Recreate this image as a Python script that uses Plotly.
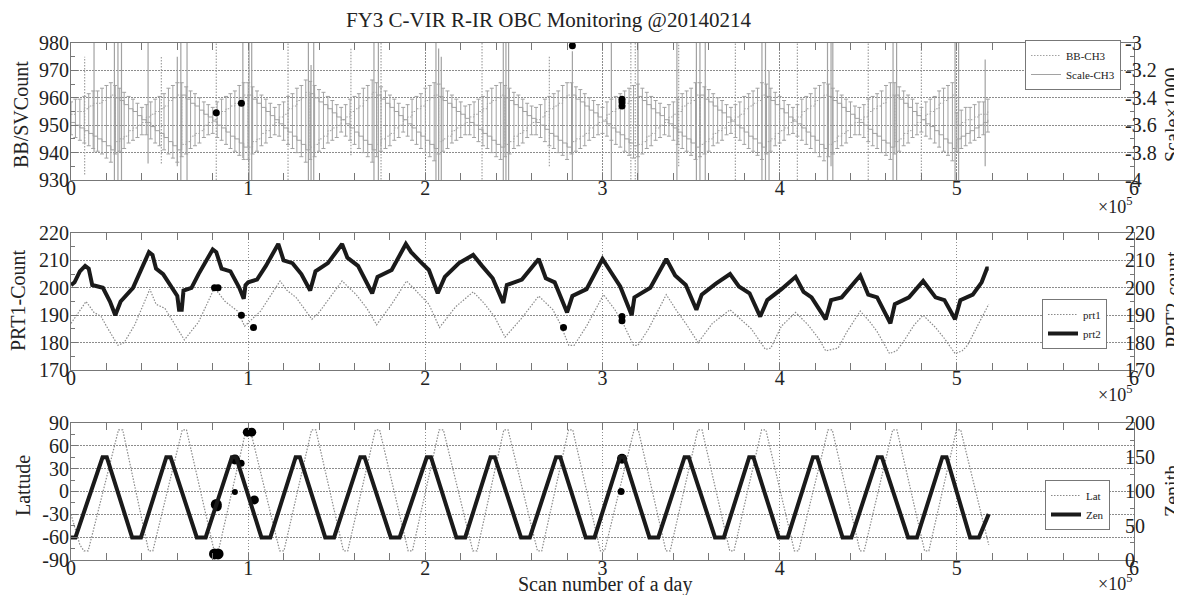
import plotly.graph_objects as go

# ---------------- Panel 1 : BB / Scale (CH3) ----------------
top_scan_step = 0.025   # sample spacing, in units of 1e5 scans
bb_ch3 = [954, 955, 955, 956, 957, 958, 958, 959, 960, 961,
          944, 945, 946, 948, 949, 950, 951, 953, 954, 955, 956, 957, 959, 960, 961,
          943, 944, 946, 947, 948, 950, 951, 952, 954, 955, 956, 957, 958, 960, 961,
          942, 944, 945, 947, 948, 950, 951, 953, 954, 956, 957, 959, 960, 962,
          942, 943, 945, 946, 948, 949, 950, 952, 953, 955, 956, 957, 959, 960, 962,
          943, 945, 946, 947, 949, 950, 952, 953, 955, 956, 957, 959, 960, 961,
          944, 945, 946, 948, 949, 950, 951, 953, 954, 955, 956, 958, 959, 960, 961,
          943, 944, 946, 947, 948, 950, 951, 952, 953, 955, 956, 957, 958, 960, 961,
          944, 945, 946, 947, 949, 950, 951, 952, 954, 955, 956, 957, 958, 959, 960,
          943, 944, 946, 947, 949, 950, 951, 953, 954, 955, 957, 958, 959, 961,
          943, 944, 945, 947, 948, 949, 951, 952, 953, 954, 956, 957, 958, 959, 961,
          944, 945, 947, 948, 949, 951, 952, 953, 955, 956, 957, 959, 960, 961,
          943, 944, 946, 947, 948, 950, 951, 952, 953, 955, 956, 957, 958, 960, 961,
          944, 945, 947, 948, 950, 951, 952, 954, 955, 956, 958, 959, 960, 961,
          950, 951, 952, 952, 953, 954, 954, 955]
scale_ch3 = [-3.58, -3.60, -3.62, -3.64, -3.66, -3.68, -3.70, -3.72, -3.75, -3.78,
             -3.40, -3.42, -3.45, -3.48, -3.50, -3.53, -3.56, -3.58, -3.61, -3.64, -3.66, -3.69, -3.72, -3.75, -3.78,
             -3.38, -3.41, -3.44, -3.46, -3.49, -3.52, -3.54, -3.57, -3.60, -3.62, -3.65, -3.68, -3.70, -3.73, -3.76,
             -3.38, -3.41, -3.44, -3.47, -3.50, -3.53, -3.56, -3.59, -3.62, -3.65, -3.68, -3.71, -3.74, -3.78,
             -3.37, -3.40, -3.43, -3.45, -3.48, -3.51, -3.54, -3.56, -3.59, -3.62, -3.65, -3.68, -3.71, -3.74, -3.78,
             -3.38, -3.41, -3.44, -3.47, -3.50, -3.53, -3.56, -3.59, -3.62, -3.65, -3.68, -3.71, -3.74, -3.77,
             -3.39, -3.42, -3.44, -3.47, -3.50, -3.52, -3.55, -3.58, -3.60, -3.63, -3.66, -3.68, -3.71, -3.74, -3.76,
             -3.40, -3.42, -3.45, -3.47, -3.50, -3.53, -3.55, -3.58, -3.60, -3.63, -3.66, -3.68, -3.71, -3.73, -3.76,
             -3.38, -3.41, -3.43, -3.46, -3.49, -3.51, -3.54, -3.57, -3.59, -3.62, -3.65, -3.67, -3.70, -3.73, -3.75,
             -3.39, -3.42, -3.45, -3.48, -3.51, -3.53, -3.56, -3.59, -3.62, -3.65, -3.68, -3.70, -3.73, -3.76,
             -3.38, -3.41, -3.43, -3.46, -3.49, -3.51, -3.54, -3.57, -3.60, -3.62, -3.65, -3.68, -3.70, -3.73, -3.76,
             -3.39, -3.42, -3.45, -3.48, -3.51, -3.54, -3.57, -3.59, -3.62, -3.65, -3.68, -3.71, -3.74, -3.77,
             -3.39, -3.42, -3.44, -3.47, -3.50, -3.52, -3.55, -3.58, -3.60, -3.63, -3.66, -3.68, -3.71, -3.73, -3.76,
             -3.38, -3.41, -3.44, -3.47, -3.50, -3.53, -3.56, -3.59, -3.61, -3.64, -3.67, -3.70, -3.73, -3.77,
             -3.70, -3.68, -3.66, -3.64, -3.62, -3.60, -3.58, -3.56]

spike_solid_x = [0.13, 0.245, 0.265, 0.285, 0.435, 0.60, 0.62, 0.655, 0.97, 1.005, 1.02, 1.34, 1.355, 1.37,
                 1.71, 1.735, 2.06, 2.075, 2.09, 2.44, 2.455, 2.47, 2.83, 3.05, 3.20, 3.42, 3.53, 3.55, 3.58,
                 3.90, 3.92, 3.94, 4.27, 4.29, 4.30, 4.64, 4.66, 4.99, 5.01, 5.16]
spike_solid_lo = [940, 928, 928, 928, 936, 935, 928, 928, 938, 928, 928, 928, 928, 928,
                  928, 928, 930, 928, 928, 928, 928, 930, 928, 928, 928, 928, 928, 930, 928,
                  928, 928, 928, 928, 935, 928, 928, 928, 928, 928, 935]
spike_solid_hi = [980, 982, 982, 982, 980, 975, 982, 982, 980, 982, 982, 982, 972, 982,
                  982, 982, 982, 978, 975, 982, 982, 980, 977, 982, 982, 982, 982, 982, 982,
                  982, 982, 970, 982, 982, 982, 982, 982, 982, 982, 974]
spike_dot_x = [0.077, 0.51, 0.82, 1.225, 1.58, 1.75, 2.32, 2.70, 3.16, 3.185, 3.43, 3.75, 4.10, 4.50, 4.80]
spike_dot_lo = [932, 936, 930, 930, 939, 928, 928, 935, 928, 928, 935, 930, 930, 930, 930]
spike_dot_hi = [975, 975, 980, 980, 978, 982, 982, 975, 980, 982, 982, 980, 980, 982, 980]

top_dot_x = [0.82, 0.962, 2.83, 3.11, 3.11, 3.11]
top_dot_y = [954.5, 958, 979, 957, 958.5, 959.5]

# ---------------- Panel 2 : PRT ----------------
prt1_x = [0, 0.04, 0.085, 0.13, 0.17, 0.20, 0.265, 0.30, 0.36, 0.445, 0.48, 0.53, 0.585, 0.64, 0.72, 0.81,
          0.87, 0.94, 0.98, 1.07, 1.18, 1.22, 1.27, 1.36, 1.40, 1.53, 1.61, 1.67, 1.725, 1.81, 1.894, 1.96,
          2.02, 2.08, 2.17, 2.27, 2.33, 2.39, 2.45, 2.545, 2.64, 2.72, 2.76, 2.81, 2.84, 2.91, 3.006, 3.07,
          3.12, 3.175, 3.20, 3.26, 3.36, 3.42, 3.47, 3.54, 3.62, 3.72, 3.78, 3.84, 3.92, 3.95, 4.01, 4.09,
          4.16, 4.22, 4.26, 4.33, 4.38, 4.455, 4.51, 4.55, 4.62, 4.66, 4.70, 4.76, 4.81, 4.88, 4.93, 4.99,
          5.03, 5.06, 5.12, 5.18]
prt1_v = [187, 191, 195, 191, 189.5, 186, 179, 180, 186.5, 199.5, 194, 192.5, 186.5, 181, 187.5, 200,
          195, 191.5, 186, 191.5, 202.5, 199, 196.5, 188.5, 191, 202.5, 197.5, 192.5, 186.5, 194, 202.5, 198,
          194, 185.5, 193, 198.5, 194.5, 189.5, 182, 189, 197, 192, 187, 179, 179, 186, 197.5, 192,
          186.5, 179, 179, 185, 197.5, 191.5, 187, 180, 187, 192, 188.5, 185, 177.5, 178, 186, 191,
          186.5, 181.5, 177, 178, 184, 191.5, 187.5, 184, 176, 177, 180.5, 186.5, 190, 185.5, 181.5, 176,
          177, 179, 186.5, 194]
prt2_x = [0, 0.02, 0.05, 0.08, 0.10, 0.12, 0.18, 0.22, 0.25, 0.28, 0.35, 0.44, 0.46, 0.48, 0.52, 0.57,
          0.60, 0.61, 0.625, 0.635, 0.68, 0.72, 0.80, 0.82, 0.85, 0.90, 0.95, 0.975, 0.985, 1.0, 1.05, 1.10,
          1.17, 1.20, 1.25, 1.30, 1.35, 1.38, 1.45, 1.53, 1.56, 1.62, 1.66, 1.70, 1.73, 1.81, 1.89, 1.92,
          1.98, 2.02, 2.07, 2.11, 2.19, 2.27, 2.32, 2.38, 2.44, 2.46, 2.545, 2.64, 2.68, 2.73, 2.80, 2.83,
          2.91, 3.0, 3.05, 3.10, 3.165, 3.18, 3.27, 3.36, 3.41, 3.47, 3.53, 3.56, 3.64, 3.72, 3.77, 3.83,
          3.89, 3.93, 4.01, 4.09, 4.135, 4.18, 4.26, 4.29, 4.35, 4.455, 4.50, 4.55, 4.625, 4.65, 4.73, 4.81,
          4.88, 4.93, 4.99, 5.02, 5.09, 5.14, 5.17, 5.18]
prt2_v = [201, 202, 206, 208, 207, 201, 200, 195, 190, 195, 200, 213, 212, 207, 205, 200,
          197, 192, 192, 199, 200, 205, 214, 213, 207, 206, 200, 196, 201, 202, 203, 208,
          216, 210, 209, 205, 199, 206, 209, 216, 211, 208, 203, 198, 204, 206.5, 216, 213,
          209, 206.5, 198, 204, 209, 212, 208, 203.5, 194.5, 201, 203, 210.5, 203.5, 202, 191, 197,
          199.5, 210.5, 205.5, 200.5, 190, 196.5, 200, 210.5, 204.5, 201, 192, 197.5, 201.5, 205, 200.5, 198,
          189.5, 195.5, 199.5, 204, 198.5, 196.5, 188.5, 195.5, 196.5, 204.5, 197.5, 196.5, 187, 194, 196.5, 202.5,
          196.5, 195.5, 188.5, 195.5, 197.5, 202, 207, 207]
mid_dot_x = [0.81, 0.83, 0.962, 1.03, 2.78, 3.11, 3.11]
mid_dot_y = [200, 200, 190, 185.5, 185.5, 189.5, 188]

# ---------------- Panel 3 : Lat / Zenith ----------------
lat_x = [0.0, 0.05, 0.073, 0.097, 0.268, 0.292, 0.438, 0.462, 0.628, 0.652, 0.808, 0.832, 0.988, 1.012,
         1.178, 1.202, 1.358, 1.382, 1.538, 1.562, 1.718, 1.742, 1.903, 1.927, 2.078, 2.102, 2.268, 2.292,
         2.443, 2.467, 2.633, 2.657, 2.808, 2.832, 2.988, 3.012, 3.178, 3.202, 3.358, 3.382, 3.538, 3.562,
         3.718, 3.742, 3.898, 3.922, 4.083, 4.107, 4.273, 4.297, 4.453, 4.477, 4.638, 4.662, 4.818, 4.842,
         4.998, 5.022, 5.18]
lat_v = [-30, -70, -78, -78, 81, 81, -78, -78, 81, 81, -78, -78, 81, 81,
         -78, -78, 81, 81, -78, -78, 81, 81, -78, -78, 81, 81, -78, -78,
         81, 81, -78, -78, 81, 81, -78, -78, 81, 81, -78, -78, 81, 81,
         -78, -78, 81, 81, -78, -78, 81, 81, -78, -78, 81, 81, -78, -78,
         81, 81, -70]
zen_x = [0.0, 0.025, 0.178, 0.202, 0.345, 0.395, 0.538, 0.562, 0.71, 0.76, 0.908, 0.932, 1.075, 1.125,
         1.268, 1.292, 1.435, 1.485, 1.633, 1.657, 1.805, 1.855, 2.008, 2.032, 2.175, 2.225, 2.368, 2.392,
         2.54, 2.59, 2.738, 2.762, 2.905, 2.955, 3.098, 3.122, 3.265, 3.315, 3.463, 3.487, 3.635, 3.685,
         3.828, 3.852, 3.995, 4.045, 4.188, 4.212, 4.355, 4.405, 4.553, 4.577, 4.725, 4.775, 4.918, 4.942,
         5.075, 5.125, 5.18]
zen_v = [33, 33, 150, 150, 33, 33, 150, 150, 33, 33, 150, 150, 33, 33,
         150, 150, 33, 33, 150, 150, 33, 33, 150, 150, 33, 33, 150, 150,
         33, 33, 150, 150, 33, 33, 150, 150, 33, 33, 150, 150, 33, 33,
         150, 150, 33, 33, 150, 150, 33, 33, 150, 150, 33, 33, 150, 150,
         33, 33, 67]
bot_dot_x = [0.81, 0.83, 0.82, 0.825, 0.925, 0.925, 0.96, 0.995, 1.02, 1.035, 3.11, 3.105]
bot_dot_y = [-82, -82, -17, -20, -0.5, 42, 37, 78, 78, -11, 43, 0]
bot_dot_s = [11, 11, 11, 9, 6, 10, 7, 9, 9, 9, 10, 7]

x_ticks = [0, 1, 2, 3, 4, 5, 6]
x_ticktext = ["0", "1", "2", "3", "4", "5", "6"]

# ---------------- figure ----------------
GRAY = "#a2a2a2"
FONT = "Liberation Serif, Times New Roman, serif"
fig = go.Figure()

n = min(len(bb_ch3), len(scale_ch3))
top_x = [i * top_scan_step for i in range(n)]
bb = bb_ch3[:n]
sc = scale_ch3[:n]
sc_cnt = [930 + (s + 4.0) * 50 for s in sc]   # scale value expressed on the count axis
pad = 4.5
err_up = [max(o - b, 0) + pad for b, o in zip(bb, sc_cnt)]
err_dn = [max(b - o, 0) + pad for b, o in zip(bb, sc_cnt)]

def segs(xs, lo, hi):
    X, Y = [], []
    for a, l, h in zip(xs, lo, hi):
        X += [a, a, None]
        Y += [l, h, None]
    return X, Y

FINEDOT = "1.5px,1.5px"
sx, sy = segs(spike_solid_x, spike_solid_lo, spike_solid_hi)
dx, dy = segs(spike_dot_x, spike_dot_lo, spike_dot_hi)
fig.add_trace(go.Scatter(x=sx, y=sy, mode="lines", line=dict(color=GRAY, width=1.2),
                         showlegend=False, xaxis="x", yaxis="y", hoverinfo="skip"))
fig.add_trace(go.Scatter(x=dx, y=dy, mode="lines", line=dict(color=GRAY, width=1.2, dash=FINEDOT),
                         showlegend=False, xaxis="x", yaxis="y", hoverinfo="skip"))
fig.add_trace(go.Scatter(x=top_x, y=bb, mode="lines", line=dict(color=GRAY, width=1, dash=FINEDOT, shape="hv"),
                         error_y=dict(type="data", symmetric=False, array=err_up, arrayminus=err_dn,
                                      color=GRAY, thickness=1, width=2),
                         name="BB-CH3", legend="legend", xaxis="x", yaxis="y"))
fig.add_trace(go.Scatter(x=top_x, y=sc, mode="lines", line=dict(color=GRAY, width=1, shape="hv"),
                         name="Scale-CH3", legend="legend", xaxis="x", yaxis="y2"))
fig.add_trace(go.Scatter(x=top_dot_x, y=top_dot_y, mode="markers",
                         marker=dict(color="black", size=7, opacity=1, line=dict(width=0)),
                         showlegend=False, xaxis="x", yaxis="y"))

fig.add_trace(go.Scatter(x=prt1_x, y=prt1_v, mode="lines", line=dict(color="#8a8a8a", width=1.2, dash=FINEDOT),
                         name="prt1", legend="legend2", xaxis="x2", yaxis="y3"))
fig.add_trace(go.Scatter(x=prt2_x, y=prt2_v, mode="lines", line=dict(color="#1a1a1a", width=4),
                         name="prt2", legend="legend2", xaxis="x2", yaxis="y4"))
fig.add_trace(go.Scatter(x=mid_dot_x, y=mid_dot_y, mode="markers",
                         marker=dict(color="black", size=7, opacity=1, line=dict(width=0)),
                         showlegend=False, xaxis="x2", yaxis="y3"))

fig.add_trace(go.Scatter(x=lat_x, y=lat_v, mode="lines", line=dict(color="#8a8a8a", width=1.2, dash=FINEDOT),
                         name="Lat", legend="legend3", xaxis="x3", yaxis="y5"))
fig.add_trace(go.Scatter(x=zen_x, y=zen_v, mode="lines", line=dict(color="#1a1a1a", width=4),
                         name="Zen", legend="legend3", xaxis="x3", yaxis="y6"))
fig.add_trace(go.Scatter(x=bot_dot_x, y=bot_dot_y, mode="markers",
                         marker=dict(color="black", size=bot_dot_s, symbol="circle", opacity=1,
                                     line=dict(width=0)),
                         showlegend=False, xaxis="x3", yaxis="y5"))

AX = "#777777"
TICKF = dict(family=FONT, size=20, color="#222")

def xax(anchor):
    return dict(domain=[0, 1], anchor=anchor, range=[0, 6], tickvals=x_ticks, ticktext=x_ticktext,
                ticks="inside", ticklen=7, tickcolor=AX, showline=True, linecolor=AX, linewidth=1,
                mirror="allticks", showgrid=True, gridcolor="#8c8c8c", griddash=FINEDOT, gridwidth=1,
                zeroline=False, tickfont=TICKF, automargin=False, ticklabelstandoff=-10,
                minor=dict(dtick=0.2, tick0=0, ticks="inside", ticklen=4, tickcolor=AX, showgrid=False))

def yleft(dom, anchor, rng, vals, texts, minor_dtick):
    return dict(domain=dom, anchor=anchor, range=rng, tickvals=vals, ticktext=texts,
                ticks="inside", ticklen=7, tickcolor=AX, showline=True, linecolor=AX, linewidth=1,
                showgrid=True, gridcolor="#8c8c8c", griddash=FINEDOT, gridwidth=1, zeroline=False,
                tickfont=TICKF, automargin=False, ticklabelstandoff=-3,
                minor=dict(dtick=minor_dtick, ticks="inside", ticklen=4, tickcolor=AX, showgrid=False))

def yright(over, anchor, rng, vals, texts, minor_dtick):
    return dict(overlaying=over, side="right", anchor=anchor, range=rng, tickvals=vals, ticktext=texts,
                ticks="inside", ticklen=7, tickcolor=AX, showline=True, linecolor=AX, linewidth=1,
                showgrid=False, zeroline=False, tickfont=TICKF, automargin=False, ticklabelstandoff=-14,
                minor=dict(dtick=minor_dtick, ticks="inside", ticklen=4, tickcolor=AX, showgrid=False))

D1 = [0.735, 1.0]
D2 = [0.3675, 0.6325]
D3 = [0.0, 0.265]

def px_x(p):
    return (p - 63) / 1063

def px_y(p):
    return (552 - p) / 517

def label(text, x, y, angle=0, size=20, xanchor="center"):
    return dict(text=text, xref="paper", yref="paper", x=px_x(x), y=px_y(y), xanchor=xanchor,
                yanchor="middle", textangle=angle, showarrow=False,
                font=dict(family=FONT, size=size, color="#222"))

legend_common = dict(xanchor="right", yanchor="top", bgcolor="white", bordercolor="#777", borderwidth=1,
                     font=dict(family=FONT, size=11), tracegroupgap=0, itemwidth=30)

fig.update_layout(
    width=1182, height=595,
    margin=dict(l=63, r=56, t=35, b=43),
    paper_bgcolor="white", plot_bgcolor="white",
    font=dict(family=FONT, color="#222"),
    xaxis=xax("y"), xaxis2=xax("y3"), xaxis3=xax("y5"),
    yaxis=yleft(D1, "x", [930, 980], [930, 940, 950, 960, 970, 980],
                ["930", "940", "950", "960", "970", "980"], 5),
    yaxis2=yright("y", "x", [-4, -3], [-4, -3.8, -3.6, -3.4, -3.2, -3],
                  ["-4", "-3.8", "-3.6", "-3.4", "-3.2", "-3"], 0.1),
    yaxis3=yleft(D2, "x2", [170, 220], [170, 180, 190, 200, 210, 220],
                 ["170", "180", "190", "200", "210", "220"], 5),
    yaxis4=yright("y3", "x2", [170, 220], [170, 180, 190, 200, 210, 220],
                  ["170", "180", "190", "200", "210", "220"], 5),
    yaxis5=yleft(D3, "x3", [-90, 90], [-90, -60, -30, 0, 30, 60, 90],
                 ["-90", "-60", "-30", "0", "30", "60", "90"], 15),
    yaxis6=yright("y5", "x3", [0, 200], [0, 50, 100, 150, 200],
                  ["0", "50", "100", "150", "200"], 25),
    legend=dict(x=px_x(1113), y=px_y(32), **legend_common),
    legend2=dict(x=px_x(1099), y=px_y(291), **legend_common),
    legend3=dict(x=px_x(1102), y=px_y(472), **legend_common),
    annotations=[
        label("FY3 C-VIR R-IR OBC Monitoring @20140214", 540, 12, size=21),
        label("BB/SVCount", 13, 107, angle=-90),
        label("PRT1-Count", 10, 293, angle=-90),
        label("Lattude", 15, 478, angle=-90),
        label("Scale×1000", 1164, 107, angle=-90),
        label("PRT2-count", 1165, 292, angle=-90),
        label("Zenith", 1164, 483, angle=-90),
        label("Scan number of a day", 597, 576),
        label("×10<sup>5</sup>", 1126, 197, size=18, xanchor="right"),
        label("×10<sup>5</sup>", 1126, 385, size=18, xanchor="right"),
        label("×10<sup>5</sup>", 1126, 574, size=18, xanchor="right"),
    ],
)

fig.write_html("out.html")
